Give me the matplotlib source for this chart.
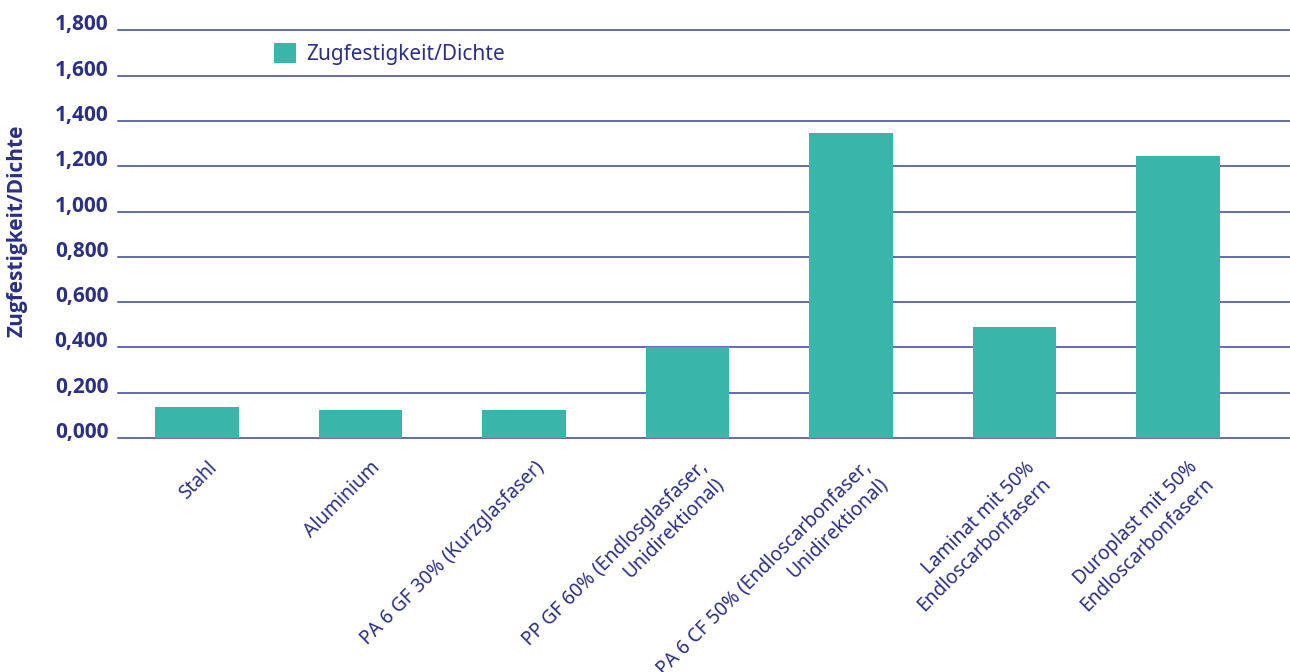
import matplotlib
matplotlib.use("Agg")
import matplotlib.pyplot as plt
import matplotlib.transforms as mtransforms
from matplotlib.ticker import FuncFormatter

# data
materials = [
    "Stahl",
    "Aluminium",
    "PA 6 GF 30% (Kurzglasfaser)",
    "PP GF 60% (Endlosglasfaser,\nUnidirektional)",
    "PA 6 CF 50% (Endloscarbonfaser,\nUnidirektional)",
    "Laminat mit 50%\nEndloscarbonfasern",
    "Duroplast mit 50%\nEndloscarbonfasern",
]
strength_density = [0.139, 0.126, 0.126, 0.404, 1.347, 0.489, 1.245]
y_ticks = [0.0, 0.2, 0.4, 0.6, 0.8, 1.0, 1.2, 1.4, 1.6, 1.8]
series_name = "Zugfestigkeit/Dichte"

NAVY = "#2b2f85"
TEAL = "#3ab5aa"
GRID = "#3d4299"
BOLD_FAMILY = ["Open Sans", "DejaVu Sans"]  # Noto Sans here has no bold weight

plt.rcParams["font.family"] = ["Noto Sans", "DejaVu Sans"]

fig = plt.figure(figsize=(12.9, 6.72), dpi=100)
ax = fig.add_axes([0.0915, 0.348, 0.9085, 0.607])

x = list(range(len(materials)))
ax.bar(x, strength_density, width=0.51, color=TEAL, label=series_name, zorder=3)

ax.set_xlim(-0.483, 6.685)
ax.set_ylim(0, 1.8)
ax.set_yticks(y_ticks)
ax.yaxis.set_major_formatter(FuncFormatter(lambda v, _: f"{v:.3f}".replace(".", ",")))
ax.tick_params(axis="y", length=0, pad=7, labelsize=15, labelcolor=NAVY)
for lbl in ax.get_yticklabels():
    lbl.set_family(BOLD_FAMILY)
    lbl.set_fontweight("bold")
    lbl.set_verticalalignment("baseline")

ax.set_xticks(x)
ax.set_xticklabels(materials, rotation=45, ha="right", rotation_mode="anchor",
                   multialignment="right")
ax.tick_params(axis="x", length=0, pad=14, labelsize=13.8, labelcolor=NAVY)
shift = mtransforms.ScaledTranslation(0.10, 0, fig.dpi_scale_trans)
for lbl in ax.get_xticklabels():
    lbl.set_transform(lbl.get_transform() + shift)

for v in y_ticks:
    ax.axhline(v, color=GRID, lw=1.1, zorder=1, clip_on=False)

for s in ax.spines.values():
    s.set_visible(False)

ax.set_ylabel(series_name, color=NAVY, fontsize=15, fontweight="bold",
              family=BOLD_FAMILY)
ax.yaxis.set_label_coords(-0.0776, 0.508)

leg = ax.legend(loc="upper left", bbox_to_anchor=(0.1331, 0.968), frameon=False,
                fontsize=15, handlelength=1.05, handleheight=1.05, handletextpad=0.5,
                borderpad=0, borderaxespad=0)
for t in leg.get_texts():
    t.set_color(NAVY)

fig.savefig("out.png", dpi=100)
